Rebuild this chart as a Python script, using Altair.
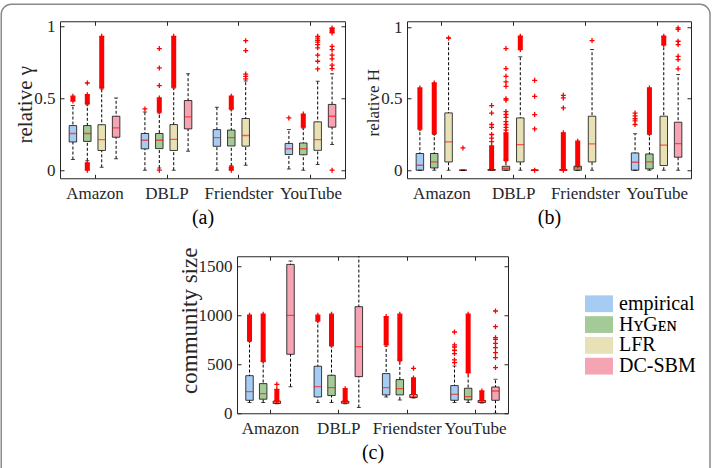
import altair as alt
import pandas as pd

groups = ["Amazon", "DBLP", "Friendster", "YouTube"]
models = ["empirical", "HʏGᴇɴ", "LFR", "DC-SBM"]
fills = ["#a7ccf3", "#a4ca98", "#e9e1b6", "#f5a4b4"]

# 16 boxes per panel, ordered group-major (Amazon, DBLP, Friendster, YouTube),
# model-minor (empirical, HyGen, LFR, DC-SBM). None = box not present.

# ---- panel (a): relative gamma ----
a_q1 = [0.196, 0.200, 0.137, 0.229, 0.148, 0.150, 0.137, 0.287, 0.166, 0.168, 0.167, None, 0.109, 0.107, 0.138, 0.299]
a_med = [0.255, 0.255, 0.213, 0.294, 0.208, 0.208, 0.214, 0.370, 0.226, 0.226, 0.241, None, 0.149, 0.149, 0.213, 0.375]
a_q3 = [0.310, 0.310, 0.316, 0.375, 0.255, 0.255, 0.317, 0.484, 0.282, 0.279, 0.359, None, 0.186, 0.189, 0.336, 0.457]
a_lo = [0.074, 0.065, 0.020, 0.079, 0.000, 0.015, 0.000, 0.132, 0.000, 0.030, 0.035, None, 0.009, 0.000, 0.040, 0.178]
a_hi = [0.449, 0.455, 0.565, 0.502, 0.405, 0.398, 0.572, 0.671, 0.437, 0.420, 0.620, None, 0.282, 0.294, 0.618, 0.671]
a_pts = {
    1: [0.606],
    4: [0.426],
    5: [0.588, 0.711, 0.845, 0.0],
    10: [0.635, 0.652, 0.668, 0.831, 0.900],
    12: [0.363],
    14: [0.704, 0.757, 0.799, 0.850, 0.873, 0.890, 0.903, 0.918, 0.930],
    15: [0.706, 0.730, 0.773, 0.800, 0.838, 0.861, 0.0],
}
a_bands = {
    0: [(0.480, 0.514)],
    1: [(0.462, 0.525), (0.0, 0.050)],
    2: [(0.572, 0.930)],
    5: [(0.404, 0.502)],
    6: [(0.578, 0.930)],
    9: [(0.426, 0.514), (0.0, 0.023)],
    13: [(0.300, 0.390)],
    15: [(0.954, 0.988)],
}

# ---- panel (b): relative H ----
b_q1 = [0.0, 0.016, 0.058, 0.0, 0.0, 0.0, 0.058, 0.0, 0.0, 0.0, 0.058, None, 0.0, 0.009, 0.033, 0.091]
b_med = [0.035, 0.058, 0.198, 0.0, 0.002, 0.014, 0.179, 0.0, 0.0, 0.016, 0.184, None, 0.056, 0.058, 0.175, 0.186]
b_q3 = [0.117, 0.117, 0.401, 0.0, 0.005, 0.028, 0.366, 0.0, 0.004, 0.028, 0.378, None, 0.121, 0.114, 0.378, 0.336]
b_lo = [0.0, 0.0, 0.0, 0.0, 0.0, 0.0, 0.0, 0.0, 0.0, 0.0, 0.0, None, 0.0, 0.0, 0.0, 0.0]
b_hi = [0.284, 0.250, 0.925, 0.0, 0.010, 0.065, 0.793, 0.0, 0.010, 0.030, 0.844, None, 0.256, 0.250, 0.874, 0.669]
b_pts = {
    2: [0.925],
    3: [0.156],
    4: [0.452, 0.400, 0.320, 0.300, 0.250, 0.225, 0.200],
    5: [0.851, 0.711, 0.657, 0.618, 0.587, 0.500, 0.490, 0.410, 0.390, 0.370, 0.340, 0.320, 0.300, 0.280],
    7: [0.629, 0.517, 0.389, 0.289, 0.0],
    8: [0.524, 0.506, 0.436],
    10: [0.907],
    12: [0.320, 0.345, 0.360, 0.380, 0.400],
    15: [0.709, 0.774, 0.797, 0.879, 0.902, 0.985, 0.995],
}
b_bands = {
    0: [(0.290, 0.576)],
    1: [(0.258, 0.610)],
    4: [(0.012, 0.170)],
    5: [(0.070, 0.262)],
    6: [(0.844, 0.937)],
    8: [(0.0, 0.262)],
    9: [(0.032, 0.203)],
    13: [(0.255, 0.576)],
    14: [(0.879, 0.937)],
}

# ---- panel (c): community size ----
c_q1 = [132, 143, 100, 601, 166, 180, 102, 373, 187, 187, 160, None, 132, 136, 109, 132]
c_med = [221, 200, 112, 998, 272, 261, 112, 679, 261, 251, 172, None, 193, 170, 117, 227]
c_q3 = [383, 302, 124, 1517, 479, 387, 122, 1086, 404, 343, 190, None, 282, 255, 130, 268]
c_lo = [109, 109, 98, 271, 109, 109, 98, 58, 166, 136, 155, None, 109, 109, 105, 0]
c_hi = [730, 526, 124, 1551, 940, 686, 122, 1700, 686, 533, 190, None, 482, 414, 130, 346]
c_pts = {
    2: [295],
    10: [458],
    12: [516, 543, 608, 642, 675, 696, 828],
    15: [465, 567, 618, 669, 713, 753, 770, 882, 1042],
}
c_bands = {
    0: [(740, 1000)],
    1: [(530, 1010)],
    2: [(126, 244)],
    4: [(942, 1000)],
    5: [(690, 1010)],
    6: [(126, 250)],
    8: [(700, 985)],
    9: [(540, 1010)],
    10: [(193, 360)],
    13: [(414, 1010)],
    14: [(132, 227)],
}

FONT = "Liberation Serif"
AX = "#262626"
PLUS = "M-1,0H1M0,-1V1"
centers = [5 * g + 1.5 for g in range(len(groups))]
label_expr = "[" + ",".join("'%s'" % g for g in groups) + "][round((datum.value - 1.5) / 5)]"


def pos_of(i):
    return 5 * (i // 4) + i % 4


def panel(q1, med, q3, lo, hi, pts, bands, ydom, yticks, yfmt, ytitle, tsize, tx, ty,
          caption, w, h, legend):
    box = pd.DataFrame([
        dict(pos=pos_of(i), model=models[i % 4], q1=q1[i], med=med[i], q3=q3[i], lo=lo[i], hi=hi[i])
        for i in range(16) if q1[i] is not None
    ])
    prow = [dict(pos=pos_of(i), v=v) for i, vs in pts.items() for v in vs]
    brow = []
    for i, bl in bands.items():
        for (l, u) in bl:
            brow.append(dict(pos=pos_of(i), lo=l, hi=u))
            prow.append(dict(pos=pos_of(i), v=l))
            prow.append(dict(pos=pos_of(i), v=u))
    pdf = pd.DataFrame(prow)
    bdf = pd.DataFrame(brow)

    xs = alt.Scale(domain=[-0.55, 18.55], nice=False, zero=False)
    ys = alt.Scale(domain=ydom, nice=False, zero=False)
    common = dict(domain=False, grid=False, tickSize=4, offset=-4, tickColor=AX, tickWidth=1,
                  labelColor=AX, labelFont=FONT, labelFontSize=17, titleFont=FONT,
                  titleFontWeight="normal", minExtent=0)
    x_bottom = alt.Axis(orient="bottom", values=centers, labelExpr=label_expr, labelPadding=7,
                        title=caption, titleFontSize=20, titlePadding=6, titleColor="black", **common)
    y_left = alt.Axis(orient="left", values=yticks, format=yfmt, labelPadding=5, title=ytitle,
                      titleFontSize=tsize, titleColor=AX, titleX=tx, titleY=ty, titleAngle=270,
                      titleAlign="center", titleBaseline="middle", **common)
    x_top = alt.Axis(orient="top", values=centers, labels=False, title=None, maxExtent=0, **common)
    y_right = alt.Axis(orient="right", values=yticks, labels=False, title=None, maxExtent=0, **common)

    whisk = alt.Chart(box).mark_rule(color="black", strokeWidth=1, strokeDash=[3, 2], clip=True).encode(
        x=alt.X("pos:Q", scale=xs, axis=x_bottom),
        y=alt.Y("lo:Q", scale=ys, axis=y_left),
        y2="hi:Q",
    )
    rect = alt.Chart(box).mark_bar(size=7.5, stroke="black", strokeOpacity=0.75, strokeWidth=1, clip=True).encode(
        x=alt.X("pos:Q", scale=xs, axis=None),
        y=alt.Y("q1:Q", scale=ys, axis=None),
        y2="q3:Q",
        fill=alt.Fill("model:N", scale=alt.Scale(domain=models, range=fills), legend=legend),
    )
    median = alt.Chart(box).mark_tick(orient="horizontal", size=7.5, thickness=1.3, color="red", opacity=0.6, clip=True).encode(
        x=alt.X("pos:Q", scale=xs, axis=None),
        y=alt.Y("med:Q", scale=ys, axis=None),
    )
    cap_lo = alt.Chart(box).mark_tick(orient="horizontal", size=4, thickness=1, color="black", clip=True).encode(
        x=alt.X("pos:Q", scale=xs, axis=x_top),
        y=alt.Y("lo:Q", scale=ys, axis=y_right),
    )
    cap_hi = alt.Chart(box).mark_tick(orient="horizontal", size=4, thickness=1, color="black", clip=True).encode(
        x=alt.X("pos:Q", scale=xs, axis=None),
        y=alt.Y("hi:Q", scale=ys, axis=None),
    )
    band = alt.Chart(bdf).mark_rule(color="red", strokeWidth=5, clip=True).encode(
        x=alt.X("pos:Q", scale=xs, axis=None),
        y=alt.Y("lo:Q", scale=ys, axis=None),
        y2="hi:Q",
    )
    outl = alt.Chart(pdf).mark_point(shape=PLUS, filled=False, color="red", size=25, strokeWidth=1.3, opacity=1, clip=True).encode(
        x=alt.X("pos:Q", scale=xs, axis=None),
        y=alt.Y("v:Q", scale=ys, axis=None),
    )
    return alt.layer(whisk, rect, median, cap_lo, cap_hi, band, outl).resolve_axis(
        x="independent", y="independent"
    ).properties(width=w, height=h)


pa = panel(a_q1, a_med, a_q3, a_lo, a_hi, a_pts, a_bands, [-0.056, 1.035], [0, 0.5, 1], "~g",
           "relative γ", 21, -39, 83, "(a)", 285, 157, None)
pb = panel(b_q1, b_med, b_q3, b_lo, b_hi, b_pts, b_bands, [-0.056, 1.042], [0, 0.5, 1], "~g",
           "relative H", 17, -38, 81, "(b)", 284, 157, None)
legend_c = alt.Legend(orient="none", legendX=352, legendY=37.5, title=None, padding=0,
                      symbolType="M-2,-1.2H2V1.2H-2Z", symbolSize=196, symbolStrokeWidth=0,
                      symbolStrokeColor="transparent", symbolOpacity=1, labelFont=FONT,
                      labelFontSize=20, labelColor="black", labelOffset=10, rowPadding=0.8)
pc = panel(c_q1, c_med, c_q3, c_lo, c_hi, c_pts, c_bands, [0, 1600], [0, 500, 1000, 1500], "d",
           "community size", 23, -52, 64, "(c)", 271, 157, legend_c)

# empty spacer cell in the bottom row; it also carries the figure's rounded outer frame
sp_df = pd.DataFrame({"v": [0]})
sp_point = alt.Chart(sp_df).mark_point(opacity=0).encode(
    x=alt.X("v:Q", axis=None), y=alt.Y("v:Q", axis=None)
)
sp_frame = alt.Chart(sp_df).mark_rect(
    fill="transparent", stroke="#8a8a8a", strokeWidth=1.5, cornerRadius=10, clip=False
).encode(
    x=alt.value(-58.75), x2=alt.value(650), y=alt.value(-252), y2=alt.value(262)
)
spacer = alt.layer(sp_point, sp_frame).properties(
    width=177, height=10, view=alt.ViewBackground(stroke="transparent")
)

top = alt.hconcat(pa, pb, spacing=62, bounds="flush").resolve_scale(fill="independent").resolve_legend(fill="independent")
bottom = alt.hconcat(spacer, pc, spacing=0, bounds="flush").resolve_scale(fill="independent").resolve_legend(fill="independent")
chart = alt.vconcat(top, bottom, spacing=-226).resolve_scale(fill="independent").resolve_legend(
    fill="independent"
).properties(
    padding={"left": 0, "top": 2.25, "right": 0, "bottom": 0}, background="white"
).configure_view(stroke=AX, strokeWidth=1)

chart.save("out.html", embed_options={"renderer": "svg", "actions": False})
